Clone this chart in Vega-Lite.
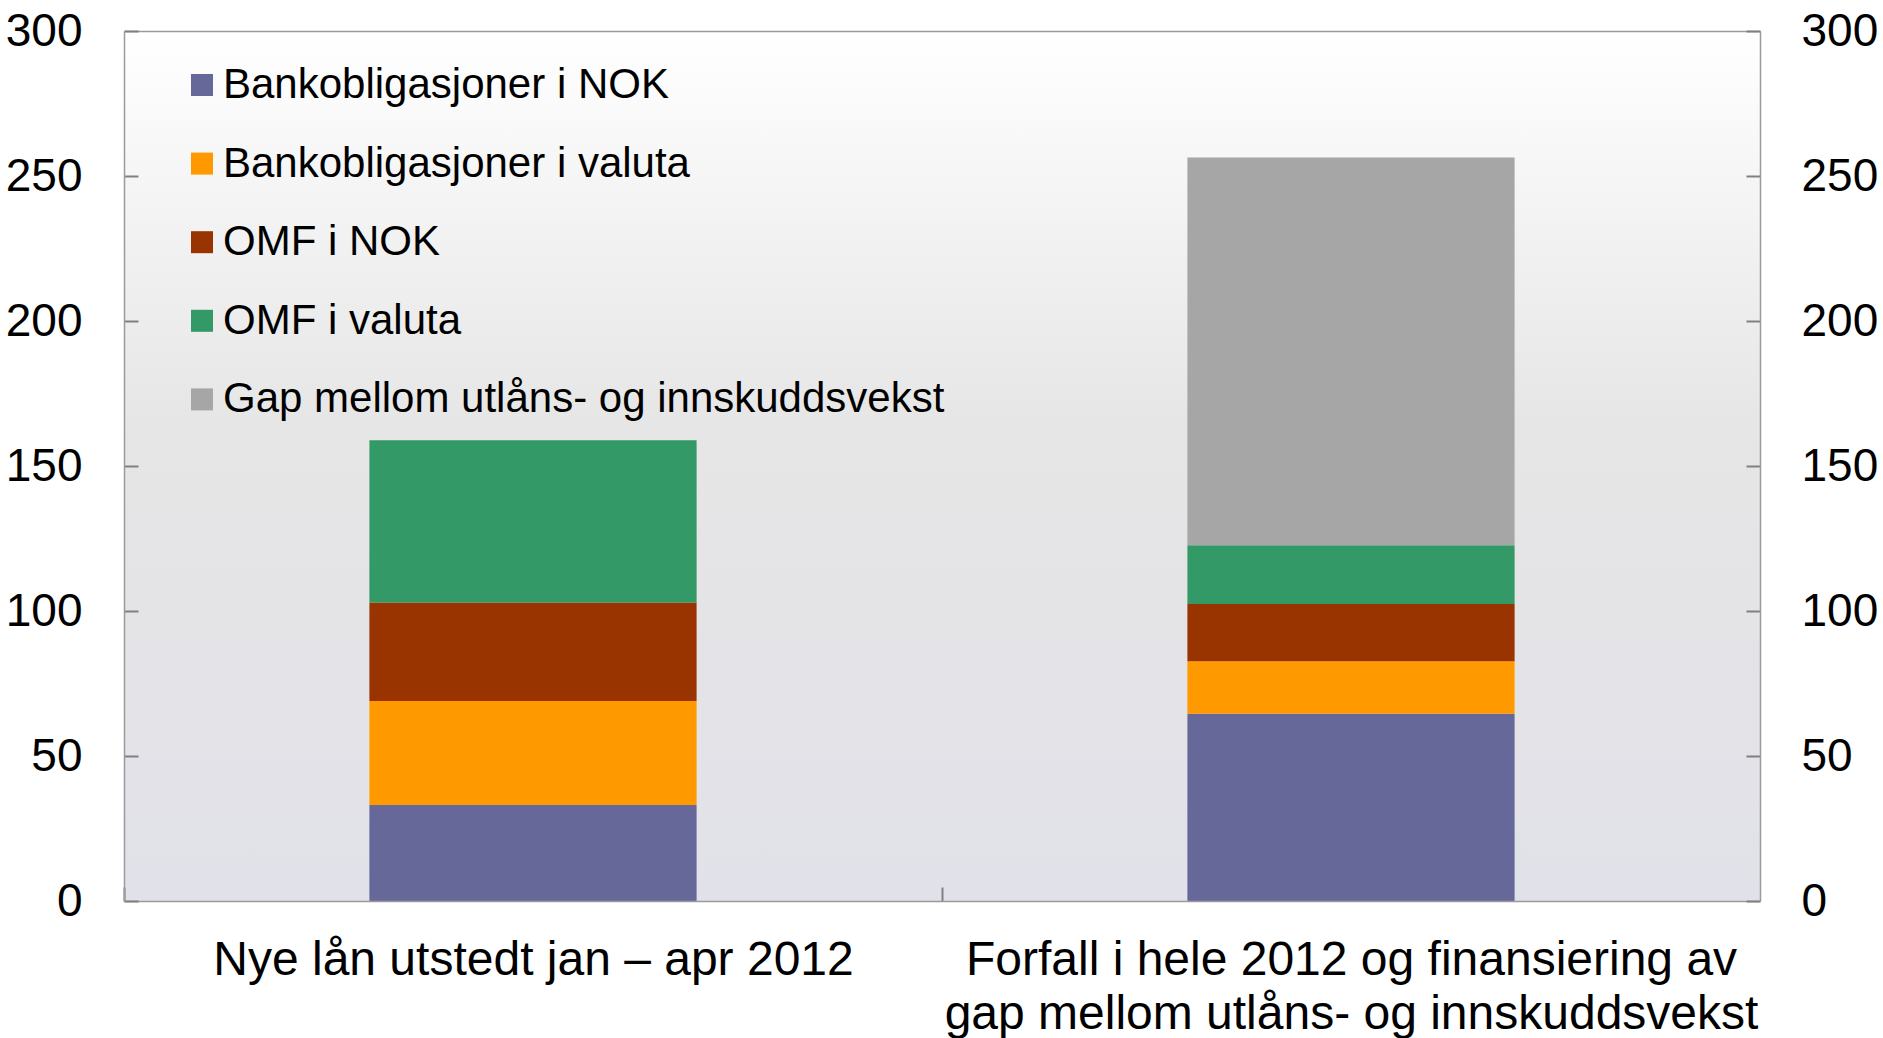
{
  "$schema": "https://vega.github.io/schema/vega-lite/v6.json",
  "autosize": {"type": "none"},
  "width": 1636,
  "height": 870,
  "padding": {"left": 124, "top": 31, "right": 123, "bottom": 137},
  "background": "white",
  "config": {
    "font": "Liberation Sans",
    "view": {"stroke": null},
    "axis": {
      "labelFont": "Liberation Sans",
      "labelFontSize": 46,
      "labelColor": "#000000",
      "tickColor": "#808080",
      "domainColor": "#9a9a9a",
      "domainWidth": 1.5,
      "tickWidth": 2,
      "grid": false,
      "title": null
    },
    "legend": {
      "labelFont": "Liberation Sans",
      "labelFontSize": 42,
      "labelColor": "#000000",
      "symbolType": "square",
      "symbolSize": 484,
      "symbolStrokeWidth": 0,
      "labelOffset": 0,
      "rowPadding": 36.6,
      "padding": 0,
      "labelLimit": 1000
    }
  },
  "data": {
    "values": [
      {"cat": "Nye lån utstedt jan – apr  2012", "serie": "Bankobligasjoner i NOK", "k": 1, "v": 33.1},
      {"cat": "Nye lån utstedt jan – apr  2012", "serie": "Bankobligasjoner i valuta", "k": 2, "v": 35.9},
      {"cat": "Nye lån utstedt jan – apr  2012", "serie": "OMF i NOK", "k": 3, "v": 33.9},
      {"cat": "Nye lån utstedt jan – apr  2012", "serie": "OMF i valuta", "k": 4, "v": 56.0},
      {"cat": "Forfall i hele 2012 og finansiering av gap mellom utlåns- og innskuddsvekst", "serie": "Bankobligasjoner i NOK", "k": 1, "v": 64.6},
      {"cat": "Forfall i hele 2012 og finansiering av gap mellom utlåns- og innskuddsvekst", "serie": "Bankobligasjoner i valuta", "k": 2, "v": 18.1},
      {"cat": "Forfall i hele 2012 og finansiering av gap mellom utlåns- og innskuddsvekst", "serie": "OMF i NOK", "k": 3, "v": 19.7},
      {"cat": "Forfall i hele 2012 og finansiering av gap mellom utlåns- og innskuddsvekst", "serie": "OMF i valuta", "k": 4, "v": 20.3},
      {"cat": "Forfall i hele 2012 og finansiering av gap mellom utlåns- og innskuddsvekst", "serie": "Gap mellom utlåns- og innskuddsvekst", "k": 5, "v": 133.7}
    ]
  },
  "layer": [
    {
      "data": {"values": [{}]},
      "mark": {
        "type": "rect",
        "zindex": 0,
        "fill": {
          "gradient": "linear",
          "x1": 0, "y1": 0, "x2": 0, "y2": 1,
          "stops": [
            {"offset": 0, "color": "#ffffff"},
            {"offset": 0.45, "color": "#e6e6e6"},
            {"offset": 1, "color": "#e1e1e9"}
          ]
        }
      },
      "encoding": {}
    },
    {
      "mark": {"type": "bar"},
      "encoding": {
        "x": {
          "field": "cat",
          "type": "nominal",
          "sort": null,
          "scale": {"paddingInner": 0.6, "paddingOuter": 0.3},
          "axis": {
            "orient": "bottom",
            "zindex": 2,
            "labelAngle": 0,
            "labelFontSize": 48,
            "tickOffset": -409,
            "labelOffset": 409,
            "tickSize": -14,
            "labelPadding": 49,
            "labelLineHeight": 54,
            "labelLimit": 2000,
            "labelExpr": "datum.label == 'Forfall i hele 2012 og finansiering av gap mellom utlåns- og innskuddsvekst' ? ['Forfall i hele 2012 og finansiering av', 'gap mellom utlåns- og innskuddsvekst'] : datum.label"
          }
        },
        "y": {
          "field": "v",
          "type": "quantitative",
          "stack": "zero",
          "scale": {"domain": [0, 300], "nice": false},
          "axis": {"orient": "left", "zindex": 2, "values": [0, 50, 100, 150, 200, 250, 300], "tickSize": -14, "labelPadding": 56}
        },
        "color": {
          "field": "serie",
          "type": "nominal",
          "scale": {
            "domain": ["Bankobligasjoner i NOK", "Bankobligasjoner i valuta", "OMF i NOK", "OMF i valuta", "Gap mellom utlåns- og innskuddsvekst"],
            "range": ["#67689a", "#ff9900", "#993300", "#339966", "#a6a6a6"]
          },
          "legend": {"orient": "none", "legendX": 57, "legendY": 33, "title": null}
        },
        "order": {"field": "k", "type": "quantitative"}
      }
    },
    {
      "mark": {"type": "bar", "opacity": 0},
      "encoding": {
        "x": {
          "field": "cat",
          "type": "nominal",
          "sort": null,
          "axis": {"orient": "top", "zindex": 2, "labels": false, "ticks": false}
        },
        "y": {
          "field": "v",
          "type": "quantitative",
          "stack": "zero",
          "axis": {"orient": "right", "zindex": 2, "values": [0, 50, 100, 150, 200, 250, 300], "tickSize": -14, "labelPadding": 55}
        },
        "order": {"field": "k", "type": "quantitative"}
      }
    }
  ],
  "resolve": {"scale": {"x": "shared", "y": "shared"}, "axis": {"x": "independent", "y": "independent"}}
}
